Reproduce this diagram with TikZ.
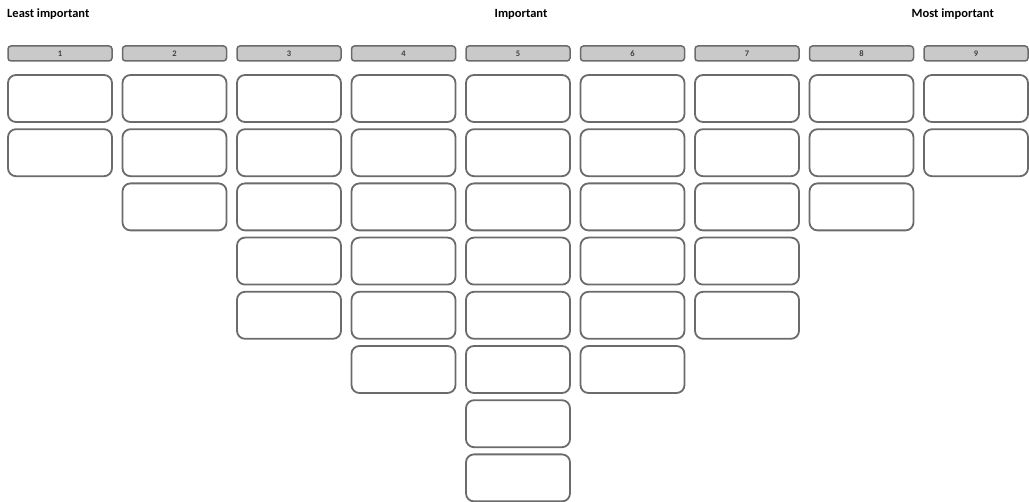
\documentclass[tikz,border=0pt]{standalone}
\usepackage{fontspec}
\setmainfont{Carlito}
\definecolor{edge}{HTML}{6B6B6B}
\definecolor{hfill}{HTML}{C9C9C9}
\begin{document}
\begin{tikzpicture}[x=1pt,y=-1pt,
  cardbox/.style={draw=edge,line width=1.8pt,rounded corners=8pt,fill=white,minimum width=104pt,minimum height=47pt,inner sep=0pt},
  headbox/.style={draw=edge,line width=1.5pt,rounded corners=3pt,fill=hfill,minimum width=104pt,minimum height=15pt,inner sep=0pt,font=\fontsize{8.5}{9}\selectfont\bfseries\color{black!75}},
  titletext/.style={font=\fontsize{12.5}{15}\selectfont\bfseries,inner sep=0pt}]
\useasboundingbox (0,0) rectangle (1029,502);
\node[titletext,anchor=west] (tl) at (7,14) {Least important};
\node[titletext] (tm) at (521,14) {Important};
\node[titletext,anchor=east] (tr) at (994,14) {Most important};
\foreach \c/\n in {1/2,2/3,3/5,4/6,5/8,6/6,7/5,8/3,9/2}{
  \pgfmathsetmacro{\cx}{60+(\c-1)*114.5}
  \node[headbox] (h\c) at (\cx,53.5) {\c};
  \foreach \r in {1,...,\n}{
    \pgfmathsetmacro{\cy}{98.5+(\r-1)*54.2}
    \node[cardbox] (b\c-\r) at (\cx,\cy) {};
  }
}
\end{tikzpicture}
\end{document}
